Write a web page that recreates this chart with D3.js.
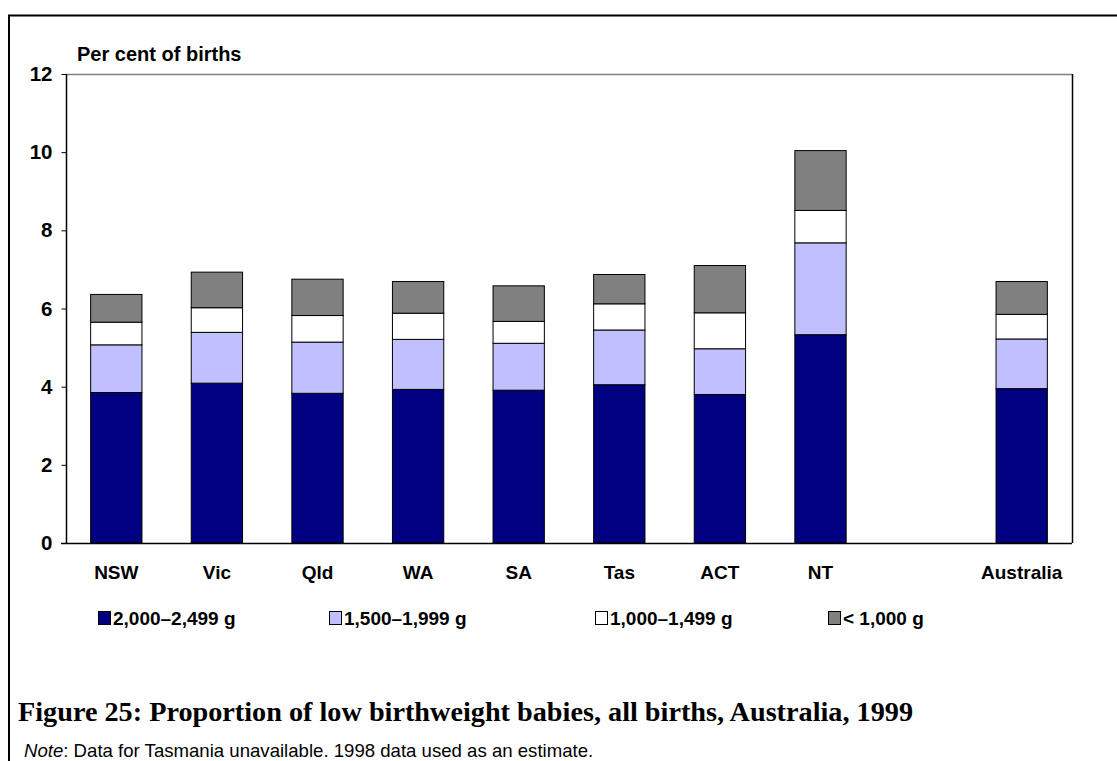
<!DOCTYPE html>
<html><head><meta charset="utf-8">
<script src="https://cdn.jsdelivr.net/npm/d3@7"></script>
<style>body{margin:0;background:#fff}svg{display:block}</style>
</head><body>
<svg id="c" width="1117" height="761"></svg>
<script>
const slots = ["NSW","Vic","Qld","WA","SA","Tas","ACT","NT","","Australia"];
const categories = ["NSW","Vic","Qld","WA","SA","Tas","ACT","NT","Australia"];
const seriesNames = ["2,000\u20132,499 g","1,500\u20131,999 g","1,000\u20131,499 g","< 1,000 g"];
const s2000 = [3.85,4.09,3.83,3.93,3.91,4.05,3.80,5.33,3.95];
const s1500 = [1.22,1.30,1.31,1.28,1.20,1.40,1.17,2.35,1.27];
const s1000 = [0.58,0.63,0.68,0.67,0.56,0.67,0.92,0.83,0.63];
const sLess = [0.71,0.91,0.93,0.81,0.91,0.75,1.21,1.53,0.84];
const yTicks = [0,2,4,6,8,10,12];
const colors = ["#000080","#C0C0FF","#FFFFFF","#808080"];

const svg = d3.select("#c");
const L=66,R=1072,T=74,B=543;
const x = d3.scaleBand().domain(slots).range([L,R]).paddingInner(0.49).paddingOuter(0.245);
const y = d3.scaleLinear().domain([0,12]).range([B,T]);
const SANS = "Arial, 'Liberation Sans', sans-serif";

// outer frame
svg.append("line").attr("x1",8).attr("x2",1117).attr("y1",15.5).attr("y2",15.5).attr("stroke","#000").attr("stroke-width",2);
svg.append("line").attr("x1",9).attr("x2",9).attr("y1",15).attr("y2",761).attr("stroke","#000").attr("stroke-width",2);

// plot frame
svg.append("line").attr("x1",L).attr("x2",R).attr("y1",T+0.5).attr("y2",T+0.5).attr("stroke","#808080").attr("stroke-width",1.5);
svg.append("line").attr("x1",R+0.5).attr("x2",R+0.5).attr("y1",T).attr("y2",B).attr("stroke","#000").attr("stroke-width",1.5);

const rows = categories.map((c,i)=>({cat:c, a:s2000[i], b:s1500[i], c1:s1000[i], d:sLess[i]}));
const stack = d3.stack().keys(["a","b","c1","d"])(rows);
stack.forEach((layer,k)=>{
  svg.append("g").selectAll("rect").data(layer).join("rect")
    .attr("x",d=>x(d.data.cat)).attr("width",x.bandwidth())
    .attr("y",d=>y(d[1])).attr("height",d=>y(d[0])-y(d[1]))
    .attr("fill",colors[k]).attr("stroke","#000").attr("stroke-width",1);
});

// y axis
const ya = svg.append("g").attr("transform",`translate(${L+0.5},0)`)
  .call(d3.axisLeft(y).tickValues(yTicks).tickSize(5).tickPadding(9).tickFormat(d3.format("d")));
ya.select(".domain").attr("stroke","#000").attr("stroke-width",1.5).attr("d",`M0,${T}V${B}`);
ya.selectAll(".tick line").attr("stroke","#000");
ya.selectAll("text").attr("font-family",SANS).attr("font-size",20.5).attr("font-weight","bold").attr("fill","#000");

// x axis
const xa = svg.append("g").attr("transform",`translate(0,${B+0.5})`)
  .call(d3.axisBottom(x).tickSize(0).tickPadding(22));
xa.select(".domain").attr("stroke","#000").attr("stroke-width",1.5).attr("d",`M${L-5},0H${R}`);
xa.selectAll("text").attr("font-family",SANS).attr("font-size",19).attr("font-weight","bold").attr("fill","#000");

svg.append("text").attr("x",77).attr("y",61).text("Per cent of births")
  .attr("font-family",SANS).attr("font-size",20).attr("font-weight","bold");

// legend
const legX = [98,329,595,828];
const lg = svg.append("g").selectAll("g").data(seriesNames).join("g")
  .attr("transform",(d,i)=>`translate(${legX[i]},0)`);
lg.append("rect").attr("x",0.5).attr("y",611.5).attr("width",12).attr("height",13)
  .attr("fill",(d,i)=>colors[i]).attr("stroke","#000").attr("stroke-width",1);
lg.append("text").attr("x",15).attr("y",625).text(d=>d)
  .attr("font-family",SANS).attr("font-size",19).attr("font-weight","bold");

// title and note
svg.append("text").attr("x",18).attr("y",721)
  .text("Figure 25: Proportion of low birthweight babies, all births, Australia, 1999")
  .attr("font-family","'Liberation Serif', 'Times New Roman', serif").attr("font-size",28).attr("font-weight","bold")
  .attr("textLength",895).attr("lengthAdjust","spacingAndGlyphs");
const note = svg.append("text").attr("x",24).attr("y",757)
  .attr("font-family",SANS).attr("font-size",18.6);
note.append("tspan").attr("font-style","italic").text("Note");
note.append("tspan").text(": Data for Tasmania unavailable. 1998 data used as an estimate.");
</script>
</body></html>
